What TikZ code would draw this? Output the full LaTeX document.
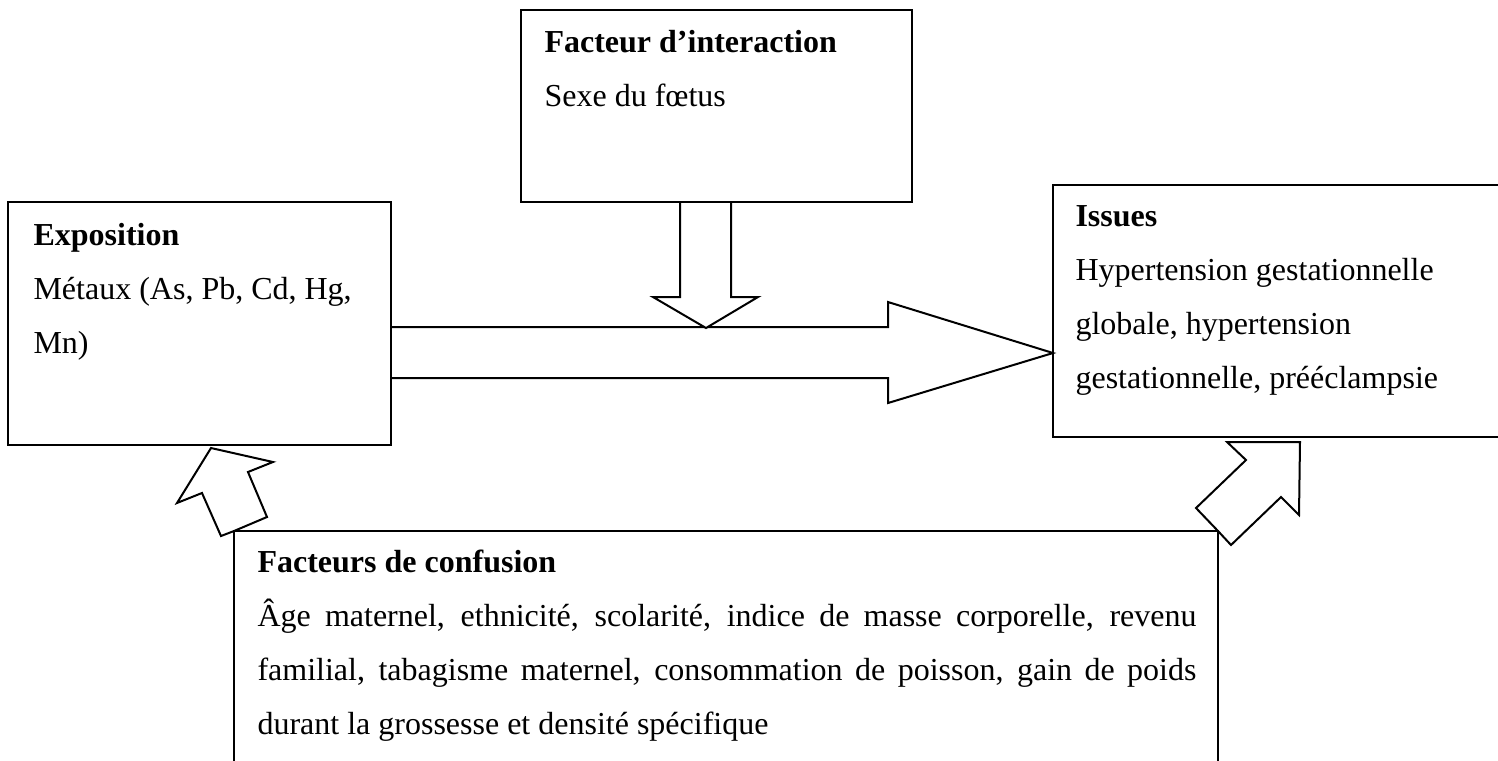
\documentclass[tikz,border=0pt]{standalone}
\usepackage{fontspec}
\setmainfont{Liberation Serif}
\pgfdeclarelayer{arrows}
\pgfsetlayers{arrows,main}
\begin{document}
\begin{tikzpicture}[x=0.375pt,y=-0.375pt,
  frame/.style={draw, line width=0.75pt, inner sep=0pt, outer sep=0pt, anchor=north west},
  blockarrow/.style={draw, fill=white, line width=0.75pt, line join=miter},
  txt/.style={anchor=base west, inner sep=0pt, font=\fontsize{12pt}{14pt}\selectfont},
  head/.style={txt, font=\fontsize{12pt}{14pt}\selectfont\bfseries}]
\useasboundingbox (0,0) rectangle (1498,760);

% boxes
\node[frame, minimum width=143.625pt, minimum height=91.125pt] (expo) at (8,202) {};
\node[frame, minimum width=146.625pt, minimum height=72pt] (inter) at (521,10) {};
\node[frame, minimum width=175.125pt, minimum height=94.5pt] (out) at (1053,185) {};
\node[frame, minimum width=369pt, minimum height=100.875pt] (conf) at (234,531) {};

\begin{pgfonlayer}{arrows}
% wide arrow from exposure to outcomes
\draw[blockarrow] (expo.east |- 0,327) -- (888,327) -- (888,302) -- (out.west |- 0,353)
  -- (888,403) -- (888,378) -- (expo.east |- 0,378);
% arrow from the interaction factor onto the main arrow
\draw[blockarrow] (680,0 |- inter.south) -- (680,297) -- (653,297) -- (706,328)
  -- (758,297) -- (731,297) -- (731,0 |- inter.south);
% confounders towards exposure
\draw[blockarrow] (211,448) -- (273,462) -- (248,472) -- (267,517) -- (conf.north west)
  -- (221,536) -- (202,493) -- (177,503) -- cycle;
% confounders towards outcomes
\draw[blockarrow] (1227,442) -- (1300,442) -- (1299,515) -- (1281,497) -- (1231,545)
  -- (conf.north east) -- (1196,508) -- (1246,460) -- cycle;
\end{pgfonlayer}

% texts
\node[head] (t1) at (544,52) {Facteur d’interaction};
\node[txt] (t2) at (544,106) {Sexe du fœtus};

\node[head] (e1) at (33,245) {Exposition};
\node[txt] (e2) at (33,299) {Métaux (As, Pb, Cd, Hg,};
\node[txt] (e3) at (33,353) {Mn)};

\node[head] (o1) at (1075,226) {Issues};
\node[txt] (o2) at (1075,280) {Hypertension gestationnelle};
\node[txt] (o3) at (1075,334) {globale, hypertension};
\node[txt] (o4) at (1075,388) {gestationnelle, prééclampsie};

\node[head] (c1) at (257,572) {Facteurs de confusion};
\node[txt] (c2) at (257,626) {\makebox[352.1pt][s]{Âge maternel, ethnicité, scolarité, indice de masse corporelle, revenu}};
\node[txt] (c3) at (257,680) {\makebox[352.1pt][s]{familial, tabagisme maternel, consommation de poisson, gain de poids}};
\node[txt] (c4) at (257,734) {durant la grossesse et densité spécifique};
\end{tikzpicture}
\end{document}
